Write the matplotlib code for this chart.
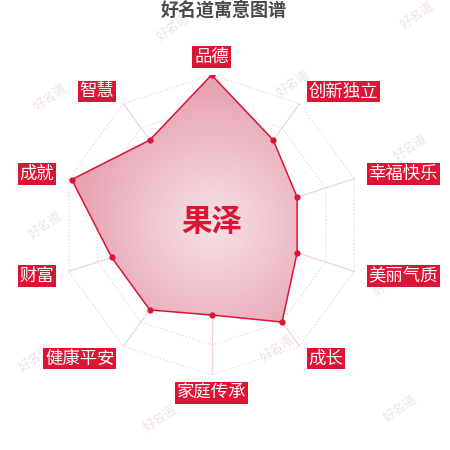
import numpy as np
import matplotlib
matplotlib.use("Agg")
import matplotlib.pyplot as plt
from matplotlib.colors import LinearSegmentedColormap
from matplotlib.patches import Polygon

plt.rcParams['font.family'] = ['Noto Sans CJK SC', 'DejaVu Sans']

# data
categories = ["品德", "创新独立", "幸福快乐", "美丽气质", "成长",
              "家庭传承", "健康平安", "财富", "成就", "智慧"]
values = [100, 70, 60, 60, 80, 60, 70, 70, 98, 70]
max_value = 100
ring_levels = [20, 40, 60, 80, 100]
name = "果泽"
title = "好名道寓意图谱"

red = "#dc1535"

fig = plt.figure(figsize=(4.5, 4.5), dpi=100)
ax = fig.add_axes([0.1367, 0.1667, 0.6667, 0.6667])
ax.set_xlim(-max_value, max_value)
ax.set_ylim(-max_value, max_value)
ax.set_aspect("equal")
ax.axis("off")

n = len(categories)
ang = np.deg2rad(90 - np.arange(n) * 360.0 / n)
cx, cy = np.cos(ang), np.sin(ang)

# web rings (dotted) and spokes
for lv in ring_levels:
    xs = np.append(lv * cx, lv * cx[0])
    ys = np.append(lv * cy, lv * cy[0])
    ax.plot(xs, ys, ls=(0, (1, 2)), color="#e8cad1", lw=0.8, zorder=1)
for i in range(n):
    ax.plot([0, max_value * cx[i]], [0, max_value * cy[i]], color="#f2d3da", lw=0.9, zorder=1)

# filled area with radial gradient
vx = np.array(values) * cx
vy = np.array(values) * cy
poly = Polygon(np.column_stack([vx, vy]), closed=True, fc="none", ec="none")
ax.add_patch(poly)
g = np.linspace(-max_value, max_value, 300)
gx, gy = np.meshgrid(g, g)
dist = np.sqrt(gx ** 2 + gy ** 2)
cmap = LinearSegmentedColormap.from_list("fill", ["#f6e0e5", "#f0c4ce", "#e8a3b3"])
im = ax.imshow(dist, extent=[-max_value, max_value, -max_value, max_value], origin="lower",
               cmap=cmap, vmin=0, vmax=max_value * 0.9, zorder=2, interpolation="bilinear")
im.set_clip_path(poly)

ax.plot(np.append(vx, vx[0]), np.append(vy, vy[0]), color=red, lw=1.1, zorder=3)
ax.plot(vx, vy, "o", color=red, ms=3.5, zorder=4)

# axis labels in red boxes
for i, cat in enumerate(categories):
    deg = i * 360.0 / n
    if deg == 0:
        ha, va, r = "center", "bottom", 106
    elif deg == 180:
        ha, va, r = "center", "top", 106
    elif deg < 180:
        ha, va, r = "left", "center", 110
    else:
        ha, va, r = "right", "center", 110
    ax.text(r * cx[i], r * cy[i], cat, ha=ha, va=va, fontsize=12.5, color="white",
            bbox=dict(boxstyle="square,pad=0.1", fc=red, ec="none"), zorder=5)

ax.text(0, 2, name, ha="center", va="center", fontsize=22, fontweight="bold", color=red, zorder=6)

fig.text(0.497, 0.977, title, ha="center", va="center", fontsize=13, fontweight="bold", color="#4a4a4a")

# watermarks
marks = [(173, 27), (417, 15), (50, 97), (293, 83), (410, 147), (45, 225),
         (390, 282), (277, 348), (35, 358), (160, 418), (400, 408)]
for px, py in marks:
    fig.text(px / 450, 1 - py / 450, "好名道", ha="center", va="center", fontsize=9,
             rotation=35, color="#f2e2e2", zorder=-1)

fig.savefig("out.png", dpi=100)
